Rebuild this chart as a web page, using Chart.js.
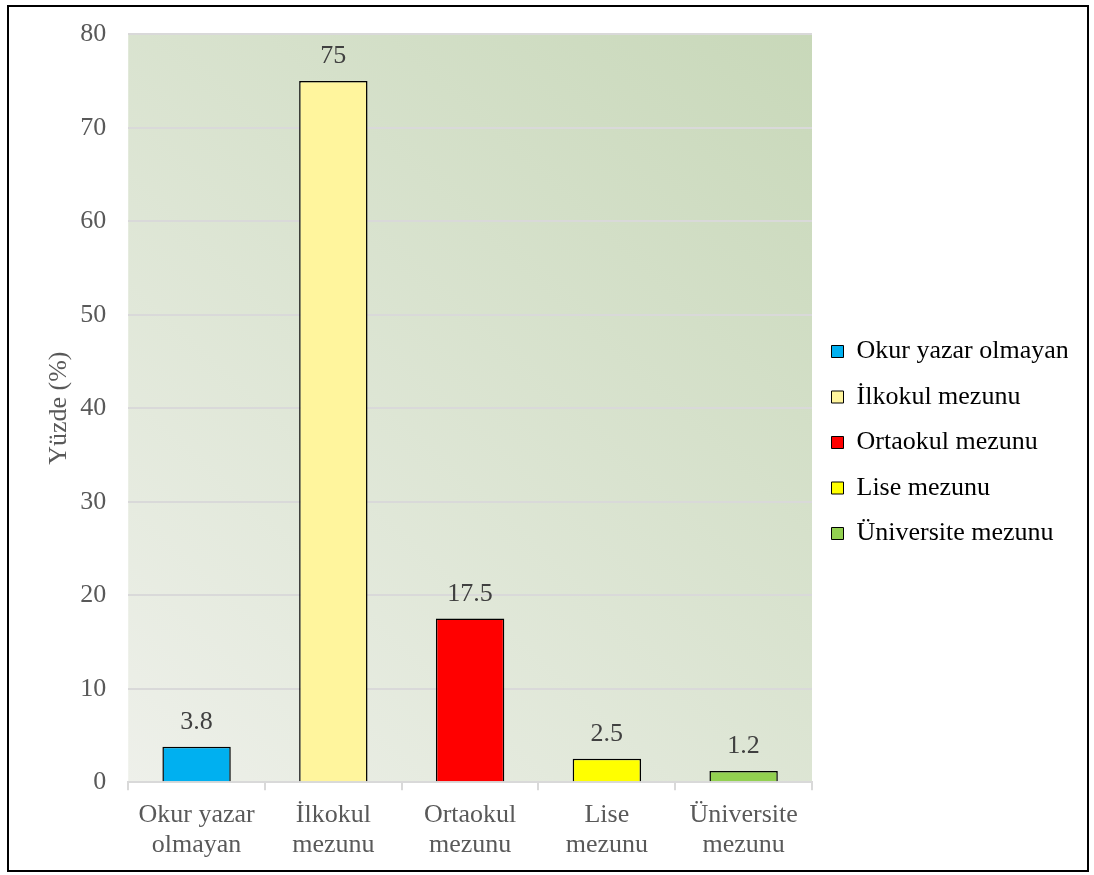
<!DOCTYPE html>
<html>
<head>
<meta charset="utf-8">
<script src="https://cdn.jsdelivr.net/npm/chart.js@4.4.0/dist/chart.umd.min.js"></script>
<style>
  body { margin: 0; background: #fff; }
  #box {
    position: absolute; left: 7px; top: 5px;
    width: 1078px; height: 863px;
    border: 2px solid #000;
  }
</style>
</head>
<body>
<div id="box"><canvas id="chart"></canvas></div>
<script>
const categories = [
  ["Okur yazar", "olmayan"],
  ["İlkokul", "mezunu"],
  ["Ortaokul", "mezunu"],
  ["Lise", "mezunu"],
  ["Üniversite", "mezunu"]
];
const legendNames = ["Okur yazar olmayan", "İlkokul mezunu", "Ortaokul mezunu", "Lise mezunu", "Üniversite mezunu"];
const percentages = [3.8, 75, 17.5, 2.5, 1.2];
const barColors = ["#00b0f0", "#fff59d", "#ff0000", "#ffff00", "#92d050"];

const FONT = "'Liberation Serif', 'Times New Roman', serif";

// green gradient behind the plot area
const plotBg = {
  id: "plotBg",
  beforeDraw(chart) {
    const { ctx, chartArea: a } = chart;
    const g = ctx.createLinearGradient(a.left, a.bottom, a.right, a.top);
    g.addColorStop(0, "#eef0ea");
    g.addColorStop(1, "#c8d8b9");
    ctx.save();
    ctx.fillStyle = g;
    ctx.fillRect(a.left, a.top, a.right - a.left, a.bottom - a.top);
    ctx.restore();
  }
};

// value labels above the bars
const valueLabels = {
  id: "valueLabels",
  afterDatasetsDraw(chart) {
    const { ctx } = chart;
    const meta = chart.getDatasetMeta(0);
    ctx.save();
    ctx.font = "26px " + FONT;
    ctx.fillStyle = "#404040";
    ctx.textAlign = "center";
    ctx.textBaseline = "alphabetic";
    meta.data.forEach((bar, i) => {
      ctx.fillText(String(percentages[i]), bar.x, bar.y - 18);
    });
    ctx.restore();
  }
};

new Chart(document.getElementById("chart"), {
  type: "bar",
  data: {
    labels: categories,
    datasets: [
      {
        data: percentages,
        backgroundColor: barColors,
        borderColor: "#000",
        borderWidth: 1.5,
        barPercentage: 0.5,
        categoryPercentage: 1,
      },
    ],
  },
  options: {
    responsive: true,
    maintainAspectRatio: false,
    animation: false,
    layout: { padding: { top: 8, right: 19, bottom: 0, left: 35 } },
    plugins: {
      tooltip: { enabled: false },
      legend: {
        display: true,
        position: "right",
        labels: {
          font: { family: FONT, size: 26 },
          color: "#595959",
          boxWidth: 12,
          boxHeight: 12,
          padding: 19.5,
          generateLabels: () =>
            legendNames.map((name, i) => ({
              text: name,
              fillStyle: barColors[i],
              strokeStyle: "#000",
              lineWidth: 1,
              index: i,
            })),
        },
      },
    },
    scales: {
      x: {
        grid: {
          display: true,
          offset: true,
          drawOnChartArea: false,
          color: "#d9d9d9",
          lineWidth: 2,
          tickLength: 8,
        },
        border: { color: "#d9d9d9", width: 2 },
        ticks: {
          font: { family: FONT, size: 26, lineHeight: 1.15 },
          color: "#595959",
          maxRotation: 0,
          padding: 10,
        },
      },
      y: {
        min: 0,
        max: 80,
        ticks: {
          stepSize: 10,
          // small lineHeight keeps the top label from pushing the plot down
          font: { family: FONT, size: 26, lineHeight: 0.4 },
          color: "#595959",
          padding: 22,
        },
        grid: { color: "#d9d9d9", lineWidth: 2, drawTicks: false },
        border: { display: false },
        title: {
          display: true,
          text: "Yüzde (%)",
          font: { family: FONT, size: 26 },
          color: "#595959",
          padding: { top: 0, bottom: -17 },
        },
      },
    },
  },
  plugins: [plotBg, valueLabels],
});
</script>
</body>
</html>
